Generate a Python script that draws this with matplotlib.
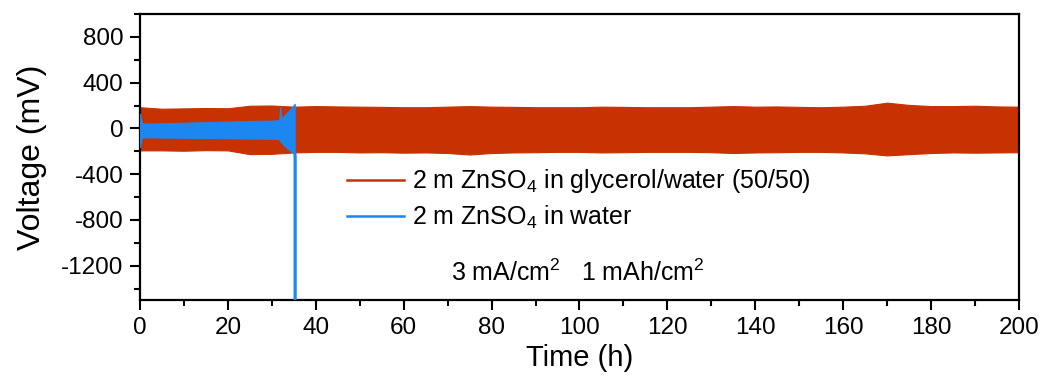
import matplotlib
matplotlib.use("Agg")
import matplotlib.pyplot as plt
from matplotlib.lines import Line2D
from matplotlib.ticker import MultipleLocator

plt.rcParams['font.family'] = ['Liberation Sans', 'DejaVu Sans']
plt.rcParams['mathtext.fontset'] = 'custom'
plt.rcParams['mathtext.rm'] = 'Liberation Sans'
plt.rcParams['mathtext.it'] = 'Liberation Sans:italic'
plt.rcParams['mathtext.bf'] = 'Liberation Sans:bold'
plt.rcParams['axes.unicode_minus'] = False

# Glycerol/water electrolyte: upper/lower voltage envelope of the cycling (mV)
glyc_time = [0, 5, 10, 15, 20, 25, 30, 35, 40, 45, 50, 55, 60, 65, 70, 75, 80,
             85, 90, 95, 100, 105, 110, 115, 120, 125, 130, 135, 140, 145, 150,
             155, 160, 165, 170, 175, 180, 185, 190, 195, 200]
glyc_upper = [185, 172, 175, 178, 176, 198, 200, 190, 195, 192, 190, 188, 185,
              185, 190, 195, 190, 188, 185, 185, 185, 190, 188, 185, 185, 185,
              190, 195, 190, 192, 188, 185, 190, 198, 225, 205, 195, 195, 198,
              192, 190]
glyc_lower = [-192, -192, -195, -190, -192, -225, -222, -210, -205, -205, -210,
              -208, -212, -210, -215, -228, -215, -210, -208, -205, -205, -210,
              -208, -205, -205, -205, -208, -215, -210, -208, -205, -205, -210,
              -218, -236, -225, -215, -210, -212, -210, -208]

# Pure water electrolyte: envelope up to short circuit
water_time = [0, 0.4, 1.5, 5, 10, 15, 20, 25, 30, 31.7, 31.9, 32.1, 32.5, 33.5,
              34.5, 35.2]
water_upper = [130, 45, 42, 45, 50, 55, 60, 65, 68, 72, 185, 90, 100, 140, 180,
               215]
water_lower = [-165, -80, -78, -80, -82, -84, -86, -88, -90, -95, -120, -105,
               -140, -175, -205, -225]
# Voltage collapse at failure
fail_time = [35.25, 35.3, 35.3]
fail_volt = [-225, -250, -1700]

red = '#C83200'
blue = '#1C87F0'

fig = plt.figure(figsize=(10.45, 3.77), dpi=100)
ax = fig.add_axes([0.134, 0.204, 0.841, 0.759])

ax.fill_between(glyc_time, glyc_lower, glyc_upper, color=red, lw=0.8,
                edgecolor=red, zorder=2)
ax.fill_between(water_time, water_lower, water_upper, color=blue, lw=0.8,
                edgecolor=blue, zorder=3)
ax.plot(fail_time, fail_volt, color=blue, lw=2.3, zorder=3)

ax.set_xlim(0, 200)
ax.set_ylim(-1500, 1000)
ax.xaxis.set_major_locator(MultipleLocator(20))
ax.xaxis.set_minor_locator(MultipleLocator(10))
ax.yaxis.set_major_locator(MultipleLocator(400))
ax.yaxis.set_minor_locator(MultipleLocator(200))
ax.set_yticks([800, 400, 0, -400, -800, -1200])

for s in ax.spines.values():
    s.set_linewidth(1.6)
ax.tick_params(which='major', direction='out', length=7, width=1.5,
               labelsize=17.5)
ax.tick_params(axis='x', which='major', pad=5.5)
ax.tick_params(axis='y', which='major', pad=5)
ax.tick_params(which='minor', direction='out', length=4.5, width=1.5)

ax.set_xlabel('Time (h)', fontsize=21, labelpad=3)
ax.set_ylabel('Voltage (mV)', fontsize=23, labelpad=10)

handles = [Line2D([], [], color=red, lw=1.8), Line2D([], [], color=blue, lw=1.8)]
labels = ['2 m ZnSO$_4$ in glycerol/water (50/50)', '2 m ZnSO$_4$ in water']
ax.legend(handles, labels, loc='center left', bbox_to_anchor=(0.2355, 0.352),
          frameon=False, fontsize=18, handlelength=2.3, handletextpad=0.3,
          labelspacing=0.35, borderpad=0, borderaxespad=0)

ax.text(0.354, 0.097, '3 mA/cm$^2$   1 mAh/cm$^2$', transform=ax.transAxes,
        fontsize=18, va='center', ha='left')

fig.savefig('out.png', dpi=100)
